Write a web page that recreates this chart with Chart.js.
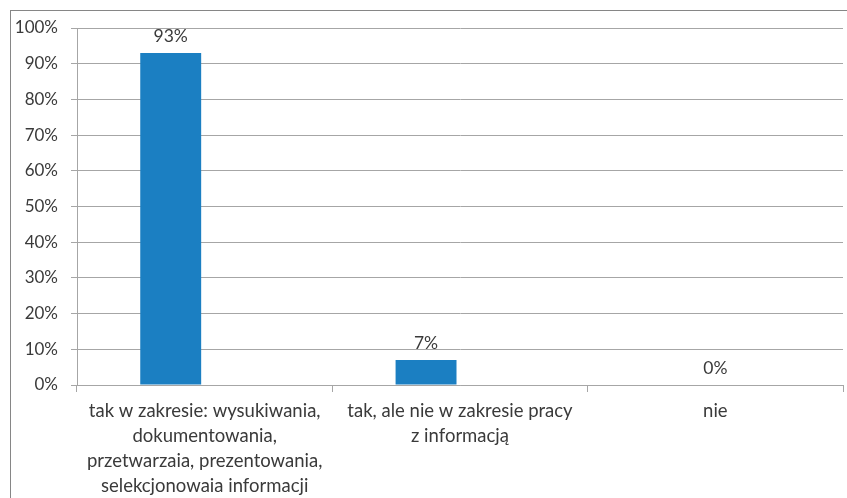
<!DOCTYPE html>
<html>
<head>
<meta charset="utf-8">
<script src="https://cdn.jsdelivr.net/npm/chart.js@4"></script>
<style>
  html, body { margin: 0; padding: 0; background: #fff; }
  #wrap { width: 847px; height: 498px; position: relative; }
</style>
</head>
<body>
<div id="wrap"><canvas id="chart"></canvas></div>
<script>
const categories = [
  ['tak w zakresie: wysukiwania,', 'dokumentowania,', 'przetwarzaia, prezentowania,', 'selekcjonowaia informacji'],
  ['tak, ale nie w zakresie pracy', 'z informacją'],
  ['nie']
];
const values = [93, 7, 0];
const emptySeries = [null, null, null];
const yTicks = [0, 10, 20, 30, 40, 50, 60, 70, 80, 90, 100];

const textColor = '#3a3a3a';
const gridColor = '#a6a6a6';

// frame around the whole chart
const frame = {
  id: 'frame',
  beforeDraw(chart) {
    const ctx = chart.ctx;
    ctx.save();
    ctx.strokeStyle = '#868686';
    ctx.lineWidth = 1;
    ctx.strokeRect(10.5, 10.5, 1000, 1000);
    ctx.restore();
  }
};

// value labels above the bars
const valueLabels = {
  id: 'valueLabels',
  afterDatasetsDraw(chart) {
    const ctx = chart.ctx;
    const meta = chart.getDatasetMeta(0);
    const xs = chart.scales.x;
    ctx.save();
    ctx.fillStyle = textColor;
    ctx.font = '17.5px Lato';
    ctx.textAlign = 'center';
    ctx.textBaseline = 'alphabetic';
    meta.data.forEach((el, i) => {
      const v = values[i];
      const x = v === 0 ? xs.getPixelForValue(i) : el.x;
      ctx.fillText(v + '%', x, el.y - 11);
    });
    ctx.restore();
  }
};

new Chart(document.getElementById('chart'), {
  type: 'bar',
  data: {
    labels: categories,
    datasets: [
      { data: values, backgroundColor: '#1b7fc2', barPercentage: 0.897, categoryPercentage: 0.532 },
      { data: emptySeries, backgroundColor: '#1b7fc2', barPercentage: 0.897, categoryPercentage: 0.532 }
    ]
  },
  options: {
    responsive: true,
    maintainAspectRatio: false,
    animation: false,
    layout: { padding: { top: 28, right: 4, left: 0, bottom: 0 } },
    plugins: {
      legend: { display: false },
      tooltip: { enabled: false }
    },
    scales: {
      x: {
        grid: { drawOnChartArea: false, drawTicks: true, tickLength: 7, color: gridColor },
        border: { color: gridColor },
        ticks: { color: textColor, font: { family: 'Lato', size: 18.5, lineHeight: 1.35 }, padding: 7, maxRotation: 0, autoSkip: false },
        afterFit(scale) { scale.height = 113; }
      },
      y: {
        min: 0,
        max: 100,
        afterBuildTicks(scale) { scale.ticks = yTicks.map(v => ({ value: v })); },
        grid: { color: gridColor, tickLength: 6 },
        border: { color: gridColor },
        ticks: { color: textColor, font: { family: 'Lato', size: 17 }, padding: 13, callback: v => v + '%' },
        afterFit(scale) { scale.width = 77; }
      }
    }
  },
  plugins: [frame, valueLabels]
});
</script>
</body>
</html>
